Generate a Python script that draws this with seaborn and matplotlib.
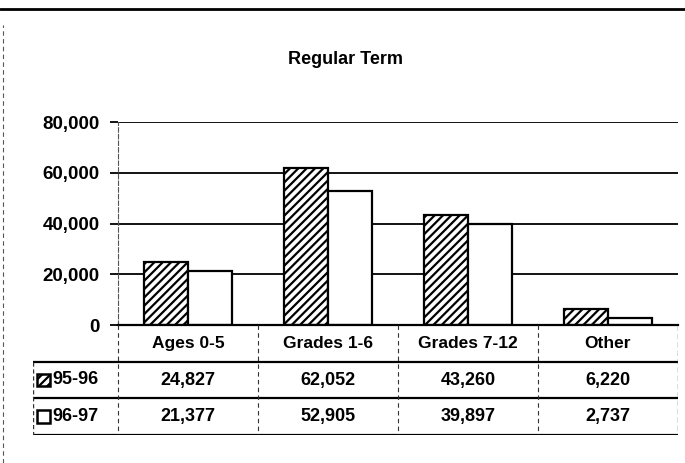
import pandas as pd
import seaborn as sns
import matplotlib.pyplot as plt
from matplotlib.lines import Line2D
from matplotlib.patches import Rectangle
from matplotlib import font_manager

# datos
categorias = ['Ages 0-5', 'Grades 1-6', 'Grades 7-12', 'Other']
anios = ['95-96', '96-97']
valores_9596 = [24827, 62052, 43260, 6220]
valores_9697 = [21377, 52905, 39897, 2737]
yticks = [0, 20000, 40000, 60000, 80000]

df = pd.DataFrame({
    'categoria': categorias * 2,
    'anio': [anios[0]] * 4 + [anios[1]] * 4,
    'valor': valores_9596 + valores_9697,
})

sns.set_style('white')
nombres = {f.name for f in font_manager.fontManager.ttflist}
fam = 'Liberation Sans Narrow' if 'Liberation Sans Narrow' in nombres else 'Liberation Sans'
plt.rcParams['font.family'] = [fam, 'DejaVu Sans']
plt.rcParams['font.weight'] = 'bold'
plt.rcParams['text.color'] = 'black'
plt.rcParams['ytick.color'] = 'black'
plt.rcParams['hatch.linewidth'] = 1.6

W, H = 685, 463
fig = plt.figure(figsize=(W / 100, H / 100), dpi=100)

def caja(x0, y0, x1, y1):
    return [x0 / W, 1 - y1 / H, (x1 - x0) / W, (y1 - y0) / H]

# grafica principal
ax = fig.add_axes(caja(118, 122, 678, 325))
sns.barplot(data=df, x='categoria', y='valor', hue='anio', order=categorias,
            palette=['white', 'white'], edgecolor='black', linewidth=1.6,
            width=0.63, gap=0, legend=False, ax=ax)
for barra in ax.containers[0]:
    barra.set_hatch('////')

ax.set_xlim(-0.5, 3.5)
ax.set_ylim(0, 80000)
ax.set_yticks(yticks)
ax.set_yticklabels([f'{v:,}' for v in yticks], fontsize=13.5, fontweight='bold',
                   color='black')
ax.set_xticks([])
ax.set_xlabel('')
ax.set_ylabel('')
ax.yaxis.grid(True, color='black', linewidth=1.3)
ax.set_axisbelow(True)
ax.tick_params(axis='y', length=6, width=1.3, color='black', pad=7, left=True)
for lado in ['top', 'right']:
    ax.spines[lado].set_visible(False)
ax.spines['bottom'].set_linewidth(1.6)
ax.spines['bottom'].set_color('black')
ax.spines['left'].set_linestyle((0, (4, 2)))
ax.spines['left'].set_linewidth(0.8)
ax.spines['left'].set_color('#555555')

# tabla de datos
tab = fig.add_axes(caja(33, 325, 678, 435))
izq = -0.5 - 85 / 140
tab.set_xlim(izq, 3.5)
tab.set_ylim(3, 0)
tab.axis('off')
for yy in [1, 2, 3]:
    tab.plot([izq, 3.5], [yy, yy], color='black', lw=1.6, solid_capstyle='butt')
for xx in [-0.5, 0.5, 1.5, 2.5]:
    tab.plot([xx, xx], [0, 3], color='#333333', lw=0.8, ls=(0, (4, 3)))
tab.plot([3.5, 3.5], [0, 3], color='#555555', lw=1.0, ls=(0, (4, 2)))
tab.plot([izq, izq], [1, 3], color='#333333', lw=1.0, ls=(0, (3, 2)))

for i, c in enumerate(categorias):
    tab.text(i, 0.5, c, ha='center', va='center', fontsize=12.5)
    tab.text(i, 1.5, f'{valores_9596[i]:,}', ha='center', va='center', fontsize=13)
    tab.text(i, 2.5, f'{valores_9697[i]:,}', ha='center', va='center', fontsize=13)

ancho = 13 / 140
alto = 13 / 36.7
for fila, (anio, hatch) in enumerate(zip(anios, ['////', ''])):
    yc = 1.5 + fila
    tab.add_patch(Rectangle((izq + 4 / 140, yc - alto / 2), ancho, alto,
                            facecolor='white', edgecolor='black', lw=1.8, hatch=hatch))
    tab.text(izq + 19 / 140, yc, anio, ha='left', va='center', fontsize=13)

# titulo y marco
fig.text(345 / W, 1 - 60 / H, 'Regular Term', ha='center', va='center',
         fontsize=13, fontweight='bold')
fig.add_artist(Line2D([0, 1], [1 - 9 / H, 1 - 9 / H], color='black', lw=2))
fig.add_artist(Line2D([3 / W, 3 / W], [0, 1 - 25 / H], color='#555555', lw=0.8,
                      ls=(0, (4, 3))))

fig.savefig('out.png', dpi=100)
